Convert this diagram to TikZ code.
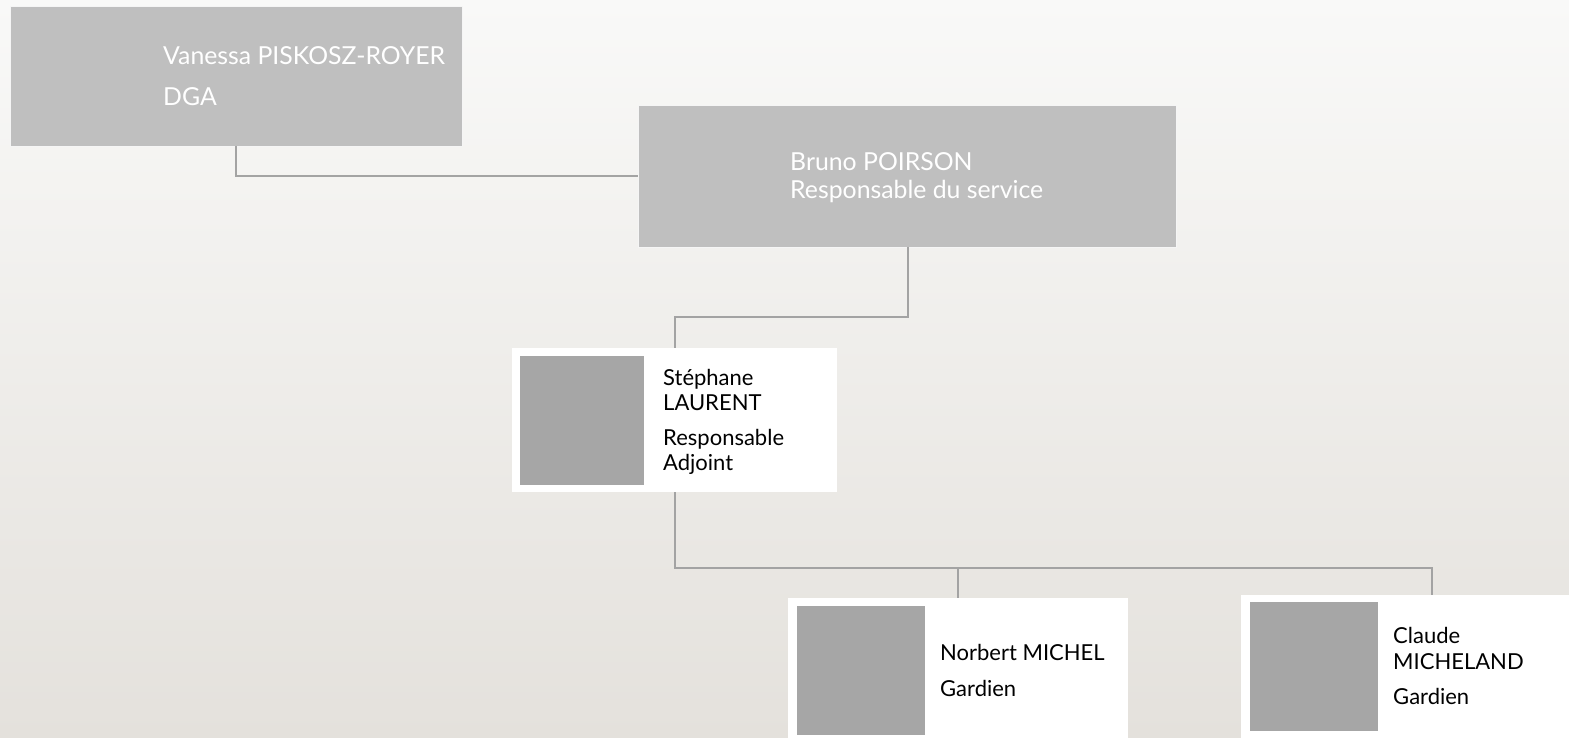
\documentclass[tikz,border=0pt]{standalone}
\usepackage{fontspec}
\setmainfont{Lato}
\definecolor{bgtop}{HTML}{F9F9F8}
\definecolor{bgbot}{HTML}{E4E1DC}
\definecolor{topbox}{HTML}{BFBFBF}
\definecolor{photo}{HTML}{A6A6A6}
\definecolor{linec}{HTML}{A3A3A3}
\tikzset{
  topbox/.style={draw=white!85!topbox, line width=0.8pt, fill=topbox, anchor=north west, inner sep=0pt, outer sep=0pt},
  card/.style={fill=white, anchor=north west, inner sep=0pt, outer sep=0pt},
  photobox/.style={fill=photo, anchor=north west, inner sep=0pt, outer sep=0pt},
  wtxt/.style={anchor=base west, inner sep=0pt, text=white, font=\fontsize{24.8}{28}\selectfont},
  btxt/.style={anchor=base west, inner sep=0pt, text=black, font=\fontsize{22}{26}\selectfont},
  conn/.style={draw=linec, line width=1.5pt},
}
\begin{document}
\begin{tikzpicture}[x=1pt,y=-1pt]
\shade[top color=bgtop, bottom color=bgbot] (0,0) rectangle (1569,738);
\useasboundingbox (0,0) rectangle (1569,738);
% top boxes
\node[topbox, minimum width=452pt, minimum height=140pt] (vbox) at (10,6) {};
\node[topbox, minimum width=538pt, minimum height=142pt] (bbox) at (638,105) {};
% cards
\node[card, minimum width=325pt, minimum height=144pt] (sbox) at (512,348) {};
\node[photobox, minimum width=124pt, minimum height=129pt] (sphoto) at (520,356) {};
\node[card, minimum width=340pt, minimum height=142pt] (nbox) at (788,598) {};
\node[photobox, minimum width=128pt, minimum height=129pt] (nphoto) at (797,606) {};
\node[card, minimum width=330pt, minimum height=145pt] (cbox) at (1241,595) {};
\node[photobox, minimum width=128pt, minimum height=129pt] (cphoto) at (1250,602) {};
% texts
\node[wtxt] (v1) at (163,65) {Vanessa PISKOSZ-ROYER};
\node[wtxt] (v2) at (163,106) {DGA};
\node[wtxt] (b1) at (790,171) {Bruno POIRSON};
\node[wtxt] (b2) at (790,199) {Responsable du service};
\node[btxt] (s1) at (663,385) {Stéphane};
\node[btxt] (s2) at (663,410) {LAURENT};
\node[btxt] (s3) at (663,445) {Responsable};
\node[btxt] (s4) at (663,470) {Adjoint};
\node[btxt] (n1) at (940,660) {Norbert MICHEL};
\node[btxt] (n2) at (940,696) {Gardien};
\node[btxt] (c1) at (1393,643) {Claude};
\node[btxt] (c2) at (1393,669) {MICHELAND};
\node[btxt] (c3) at (1393,704) {Gardien};
% connectors
\coordinate (j3) at (675,317);
\coordinate (j5) at (1432,568);
\coordinate (j6) at (958,568);
\draw[conn] (vbox.south west) ++(226,0) |- (bbox.west);
\draw[conn] (bbox.south west) ++(270,0) |- (j3) -- (j3 |- sbox.north);
\draw[conn] (sbox.south west) ++(163,0) |- (j5) -- (j5 |- cbox.north);
\draw[conn] (j6) -- (j6 |- nbox.north);
\end{tikzpicture}
\end{document}
